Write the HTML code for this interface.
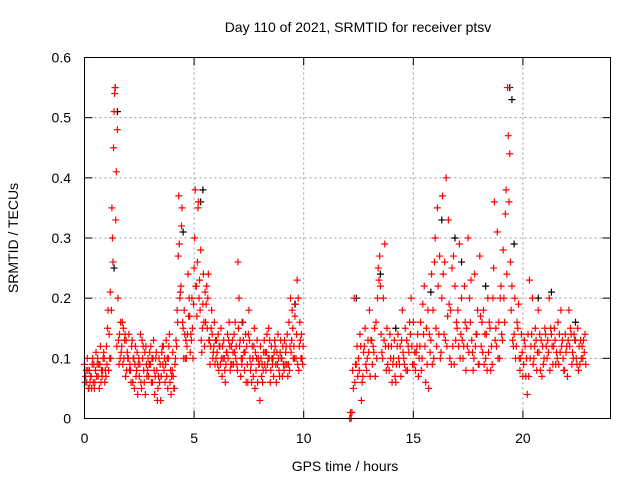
<!DOCTYPE html>
<html><head><meta charset="utf-8"><style>
body{margin:0;background:#fff;width:640px;height:480px;overflow:hidden}
svg text{font-family:"Liberation Sans",sans-serif;font-size:14px;fill:#000}
</style></head><body>
<svg id="chart" width="640" height="480" xmlns="http://www.w3.org/2000/svg">
<text x="358" y="32" text-anchor="middle">Day 110 of 2021, SRMTID for receiver ptsv</text>
<text x="345" y="471" text-anchor="middle">GPS time / hours</text>
<text transform="translate(18,238) rotate(-90)" text-anchor="middle">SRMTID / TECUs</text>
<g id="grid"></g><g id="ticks"></g><g id="black"></g><g id="red"></g>
<rect x="84.5" y="57.5" width="526" height="361" fill="none" stroke="#000"/>
</svg>
<script>
const xTicks=[0,5,10,15,20];
const yTicks=[0,0.1,0.2,0.3,0.4,0.5,0.6];
const yTickLabels=["0","0.1","0.2","0.3","0.4","0.5","0.6"];
const seg1Start=0.0, seg2Start=12.1, step=0.1;
const seg1A=[0.09,0.06,0.05,0.07,0.06,0.08,0.1,0.09,0.07,0.1,0.12,0.08,0.1,0.26,0.55,0.48,0.14,0.12,0.1,0.13,0.1,0.08,0.06,0.09,0.11,0.07,0.05,0.08,0.12,0.1,0.09,0.06,0.04,0.08,0.1,0.07,0.12,0.09,0.05,0.06,0.08,0.05,0.12,0.37,0.22,0.15,0.1,0.14,0.17,0.2,0.25,0.22,0.36,0.28,0.19,0.21,0.15,0.13,0.18,0.12,0.1,0.14,0.09,0.12,0.08,0.11,0.16,0.12,0.09,0.1,0.26,0.13,0.1,0.08,0.12,0.18,0.09,0.07,0.11,0.06,0.03,0.09,0.13,0.11,0.15,0.08,0.1,0.12,0.09,0.07,0.1,0.08,0.12,0.09,0.2,0.15,0.17,0.23,0.12,0.14];
const seg1B=[0.06,0.1,0.08,0.05,0.09,0.11,0.07,0.12,0.08,0.06,0.09,0.14,0.18,0.45,0.33,0.2,0.1,0.16,0.13,0.08,0.14,0.06,0.1,0.12,0.04,0.09,0.13,0.06,0.09,0.07,0.12,0.1,0.07,0.03,0.06,0.11,0.08,0.13,0.1,0.08,0.11,0.09,0.18,0.29,0.32,0.1,0.13,0.24,0.11,0.15,0.3,0.17,0.2,0.13,0.24,0.16,0.2,0.09,0.14,0.16,0.13,0.08,0.15,0.1,0.06,0.14,0.12,0.09,0.14,0.12,0.15,0.07,0.16,0.11,0.09,0.13,0.06,0.12,0.08,0.1,0.12,0.06,0.09,0.14,0.1,0.12,0.07,0.09,0.14,0.11,0.07,0.13,0.09,0.16,0.11,0.1,0.19,0.09,0.16,0.1];
const seg1C=[0.07,0.08,0.06,0.09,0.05,0.07,0.09,0.06,0.1,0.08,0.15,0.1,0.35,0.51,0.41,0.13,0.16,0.09,0.14,0.11,0.08,0.12,0.1,0.07,0.09,0.14,0.1,0.11,0.07,0.09,0.06,0.13,0.1,0.05,0.09,0.12,0.1,0.07,0.12,0.04,0.07,0.1,0.16,0.2,0.35,0.18,0.1,0.17,0.14,0.1,0.38,0.26,0.23,0.11,0.16,0.19,0.24,0.12,0.1,0.09,0.11,0.12,0.1,0.13,0.09,0.1,0.08,0.13,0.11,0.09,0.2,0.1,0.13,0.14,0.06,0.1,0.12,0.15,0.1,0.09,0.1,0.08,0.11,0.09,0.13,0.1,0.11,0.06,0.1,0.13,0.12,0.09,0.14,0.08,0.13,0.12,0.1,0.2,0.13,0.09];
const seg1D=[0.08,0.05,0.07,0.1,0.06,0.09,0.05,0.08,0.11,0.07,0.18,0.21,0.3,0.54,0.12,0.09,0.11,0.15,0.07,0.1,0.09,0.13,0.05,0.08,0.1,0.06,0.12,0.04,0.08,0.11,0.1,0.08,0.11,0.07,0.03,0.09,0.06,0.1,0.14,0.07,0.05,0.13,0.27,0.21,0.16,0.14,0.12,0.2,0.13,0.19,0.22,0.35,0.18,0.15,0.12,0.22,0.13,0.15,0.11,0.13,0.09,0.12,0.07,0.1,0.11,0.13,0.09,0.11,0.16,0.08,0.12,0.09,0.11,0.06,0.14,0.08,0.1,0.05,0.13,0.09,0.07,0.11,0.08,0.1,0.06,0.09,0.13,0.11,0.08,0.1,0.09,0.11,0.07,0.12,0.18,0.1,0.14,0.08,0.1,0.12];
const seg2A=[0.0,0.01,0.2,0.09,0.1,0.12,0.07,0.15,0.1,0.18,0.13,0.11,0.16,0.25,0.22,0.1,0.29,0.15,0.08,0.12,0.1,0.06,0.14,0.12,0.18,0.09,0.13,0.11,0.2,0.16,0.08,0.14,0.12,0.1,0.22,0.15,0.05,0.13,0.18,0.3,0.35,0.27,0.2,0.14,0.4,0.33,0.18,0.12,0.22,0.15,0.29,0.2,0.12,0.08,0.3,0.16,0.11,0.24,0.14,0.09,0.12,0.18,0.1,0.2,0.15,0.09,0.36,0.12,0.16,0.22,0.28,0.34,0.55,0.44,0.22,0.14,0.12,0.19,0.1,0.07,0.12,0.04,0.23,0.14,0.1,0.13,0.18,0.08,0.12,0.15,0.1,0.2,0.14,0.12,0.09,0.16,0.11,0.13,0.08,0.12,0.18,0.14,0.1,0.13,0.15,0.09,0.12,0.11];
const seg2B=[0.01,0.08,0.06,0.12,0.08,0.03,0.11,0.09,0.13,0.07,0.09,0.15,0.1,0.23,0.14,0.2,0.12,0.09,0.14,0.06,0.13,0.09,0.1,0.07,0.11,0.15,0.08,0.16,0.12,0.09,0.11,0.07,0.16,0.19,0.12,0.09,0.14,0.24,0.1,0.15,0.22,0.1,0.37,0.26,0.12,0.19,0.09,0.27,0.13,0.18,0.1,0.13,0.22,0.15,0.11,0.23,0.08,0.12,0.18,0.27,0.16,0.09,0.14,0.11,0.08,0.2,0.13,0.31,0.1,0.14,0.2,0.38,0.47,0.26,0.13,0.2,0.16,0.1,0.14,0.09,0.07,0.14,0.1,0.2,0.12,0.08,0.11,0.13,0.09,0.14,0.13,0.08,0.12,0.15,0.11,0.09,0.18,0.1,0.14,0.07,0.12,0.09,0.14,0.1,0.08,0.13,0.1,0.14];
const seg2C=[0.0,0.05,0.09,0.07,0.14,0.06,0.12,0.08,0.11,0.13,0.12,0.07,0.2,0.27,0.11,0.13,0.08,0.12,0.1,0.09,0.07,0.12,0.09,0.13,0.1,0.08,0.12,0.14,0.09,0.11,0.12,0.1,0.08,0.14,0.06,0.18,0.11,0.09,0.26,0.12,0.14,0.11,0.24,0.13,0.17,0.1,0.25,0.09,0.16,0.12,0.14,0.1,0.16,0.12,0.2,0.13,0.1,0.14,0.09,0.17,0.11,0.14,0.08,0.16,0.12,0.25,0.15,0.1,0.2,0.13,0.16,0.24,0.36,0.18,0.12,0.1,0.15,0.08,0.11,0.13,0.1,0.07,0.12,0.09,0.15,0.11,0.14,0.07,0.1,0.12,0.11,0.15,0.09,0.13,0.1,0.14,0.12,0.08,0.11,0.13,0.15,0.11,0.13,0.09,0.12,0.1,0.13,0.09];
const blackX=[1.4,1.5,1.35,5.4,5.3,4.5,7.2,9.6,12.4,13.5,16.3,16.9,17.2,18.3,19.4,19.5,19.6,20.7,21.3,22.4,14.2,15.8];
const blackY=[0.55,0.51,0.25,0.38,0.36,0.31,0.16,0.19,0.2,0.24,0.33,0.3,0.26,0.22,0.55,0.53,0.29,0.2,0.21,0.16,0.15,0.21];
const X=v=>84.5+v*21.92, Y=v=>418.5-v*601.7;
const NS="http://www.w3.org/2000/svg";
const g=document.getElementById('grid'), t=document.getElementById('ticks');
function mk(tag,attrs,parent){const e=document.createElementNS(NS,tag);for(const k in attrs)e.setAttribute(k,attrs[k]);parent.appendChild(e);return e;}
xTicks.forEach(v=>{
 if(v>0){const l=mk('line',{x1:X(v),x2:X(v),y1:57.5,y2:418.5,stroke:'#999','stroke-dasharray':'2,3'},g);
 
 }
 mk('line',{x1:X(v),x2:X(v),y1:418.5,y2:410.5,stroke:'#000'},t);
 mk('line',{x1:X(v),x2:X(v),y1:57.5,y2:65.5,stroke:'#000'},t);
 const tx=mk('text',{x:X(v),y:443,'text-anchor':'middle'},t);tx.textContent=v;
 
 
});
yTicks.forEach((v,i)=>{
 if(v>0&&v<0.6){const l=mk('line',{x1:84.5,x2:610.5,y1:Y(v),y2:Y(v),stroke:'#999','stroke-dasharray':'2,3'},g);
 
 }
 mk('line',{x1:84.5,x2:92.5,y1:Y(v),y2:Y(v),stroke:'#000'},t);
 mk('line',{x1:602.5,x2:610.5,y1:Y(v),y2:Y(v),stroke:'#000'},t);
 const tx=mk('text',{x:71,y:Y(v)+5,'text-anchor':'end'},t);tx.textContent=yTickLabels[i];
 
 
});
function plus(x,y,color,parent,name){
 const p=mk('path',{d:`M${X(x)-3.5},${Y(y)}h7M${X(x)},${Y(y)-3.5}v7`,stroke:color,'stroke-width':1.2,fill:'none'},parent);
 
 
}
const bg=document.getElementById('black'), rg=document.getElementById('red');
blackX.forEach((x,i)=>plus(x,blackY[i],'#000',bg,'black-point'));
[seg1A,seg1B,seg1C,seg1D].forEach((arr,k)=>arr.forEach((v,i)=>plus(seg1Start+i*step+k*0.025,v,'#f00',rg,'red-point')));
[seg2A,seg2B,seg2C].forEach((arr,k)=>arr.forEach((v,i)=>plus(seg2Start+i*step+k*0.033,v,'#f00',rg,'red-point')));
</script>
</body></html>
